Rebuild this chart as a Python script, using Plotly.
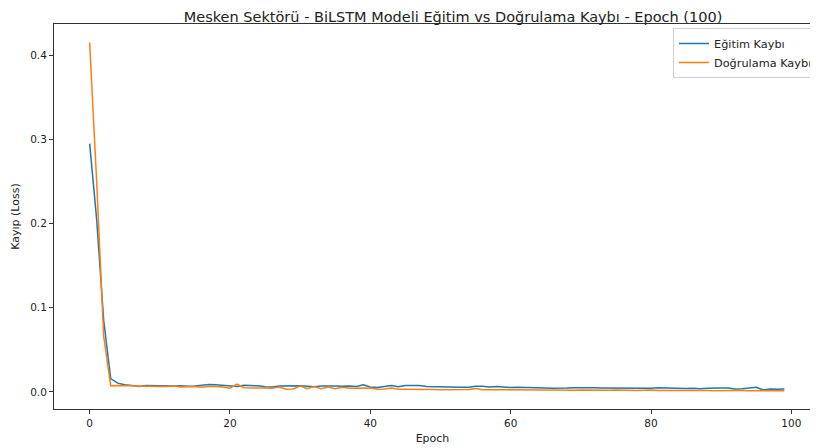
import plotly.graph_objects as go

# kayip degerleri
epochs = list(range(100))

egitim_kaybi = [
    0.295, 0.205, 0.085, 0.016, 0.0105, 0.0085, 0.0078, 0.0066, 0.0078, 0.0077,
    0.0071, 0.0067, 0.0072, 0.0075, 0.0068, 0.0072, 0.0084, 0.0088, 0.0086, 0.0079,
    0.0069, 0.0066, 0.0079, 0.0078, 0.0074, 0.0063, 0.0060, 0.0072, 0.0074, 0.0074,
    0.0075, 0.0068, 0.0062, 0.0071, 0.0066, 0.0070, 0.0068, 0.0072, 0.0066, 0.0085,
    0.0060, 0.0052, 0.0065, 0.0078, 0.0063, 0.0077, 0.0078, 0.0077, 0.0066, 0.0063,
    0.0060, 0.0058, 0.0060, 0.0056, 0.0057, 0.0068, 0.0067, 0.0058, 0.0064, 0.0055,
    0.0052, 0.0055, 0.0054, 0.0057, 0.0053, 0.0047, 0.0044, 0.0049, 0.0046, 0.0050,
    0.0052, 0.0050, 0.0049, 0.0047, 0.0046, 0.0042, 0.0048, 0.0041, 0.0039, 0.0038,
    0.0044, 0.0050, 0.0046, 0.0040, 0.0038, 0.0040, 0.0045, 0.0039, 0.0045, 0.0042,
    0.0046, 0.0048, 0.0036, 0.0037, 0.0043, 0.0056, 0.0025, 0.0036, 0.0034, 0.0035,
]

dogrulama_kaybi = [
    0.415, 0.25, 0.066, 0.0075, 0.0078, 0.0076, 0.0074, 0.0068, 0.0062, 0.0063,
    0.0065, 0.0066, 0.0071, 0.0058, 0.0063, 0.0066, 0.0056, 0.0066, 0.0065, 0.0060,
    0.0044, 0.0095, 0.0050, 0.0045, 0.0046, 0.0047, 0.0044, 0.0060, 0.0034, 0.0036,
    0.0070, 0.0040, 0.0065, 0.0040, 0.0058, 0.0038, 0.0055, 0.0045, 0.0047, 0.0052,
    0.0046, 0.0034, 0.0036, 0.0048, 0.0034, 0.0033, 0.0034, 0.0033, 0.0032, 0.0030,
    0.0028, 0.0030, 0.0027, 0.0026, 0.0031, 0.0042, 0.0028, 0.0027, 0.0026, 0.0029,
    0.0024, 0.0030, 0.0023, 0.0024, 0.0022, 0.0025, 0.0021, 0.0026, 0.0022, 0.0020,
    0.0024, 0.0021, 0.0019, 0.0022, 0.0020, 0.0023, 0.0019, 0.0020, 0.0018, 0.0021,
    0.0024, 0.0017, 0.0020, 0.0018, 0.0017, 0.0019, 0.0016, 0.0021, 0.0017, 0.0016,
    0.0018, 0.0016, 0.0015, 0.0017, 0.0016, 0.0018, 0.0015, 0.0016, 0.0015, 0.0016,
]

x_ticks = [0, 20, 40, 60, 80, 100]
y_ticks = [0.0, 0.1, 0.2, 0.3, 0.4]
y_tick_labels = ['0.0', '0.1', '0.2', '0.3', '0.4']

FONT = 'DejaVu Sans'
# the page body has an 8px margin, so the figure is drawn 8px smaller
W, H = 810, 440

fig = go.Figure()
fig.add_trace(go.Scatter(x=epochs, y=egitim_kaybi, mode='lines', name='Eğitim Kaybı',
                         line=dict(color='#1f77b4', width=1.5)))
fig.add_trace(go.Scatter(x=epochs, y=dogrulama_kaybi, mode='lines', name='Doğrulama Kaybı',
                         line=dict(color='#ff7f0e', width=1.5)))

axis_style = dict(showgrid=False, zeroline=False, showline=True, linecolor='#333',
                  linewidth=1, ticks='outside', ticklen=4, tickcolor='#333',
                  automargin=False,
                  tickfont=dict(family=FONT, size=10.5, color='#222'))

fig.update_layout(
    width=W, height=H,
    margin=dict(l=46, r=0, t=16, b=39),
    plot_bgcolor='white', paper_bgcolor='white',
    font=dict(family=FONT, size=11, color='#222'),
    title=dict(text='Mesken Sektörü - BiLSTM Modeli Eğitim vs Doğrulama Kaybı - Epoch (100)',
               font=dict(family=FONT, size=14.5, color='#222'),
               x=445 / W, xref='container', xanchor='center',
               y=1 - 8.5 / H, yref='container', yanchor='middle'),
    xaxis=dict(range=[-5.08, 102.8], tickvals=x_ticks, mirror=True,
               title=dict(text='Epoch', standoff=6, font=dict(family=FONT, size=11, color='#222')),
               **axis_style),
    yaxis=dict(range=[-0.0202, 0.437], tickvals=y_ticks, ticktext=y_tick_labels,
               title=dict(text='Kayıp (Loss)', standoff=8, font=dict(family=FONT, size=11, color='#222')),
               **axis_style),
    legend=dict(x=(679 - 54) / 764, y=1 - 4 / 385, xanchor='left', yanchor='top',
                bgcolor='rgba(255,255,255,0.8)', bordercolor='#d0d0d0', borderwidth=1,
                font=dict(family=FONT, size=11.3, color='#222'), tracegroupgap=0,
                itemwidth=30),
    showlegend=True,
)

fig.write_html("out.html")
